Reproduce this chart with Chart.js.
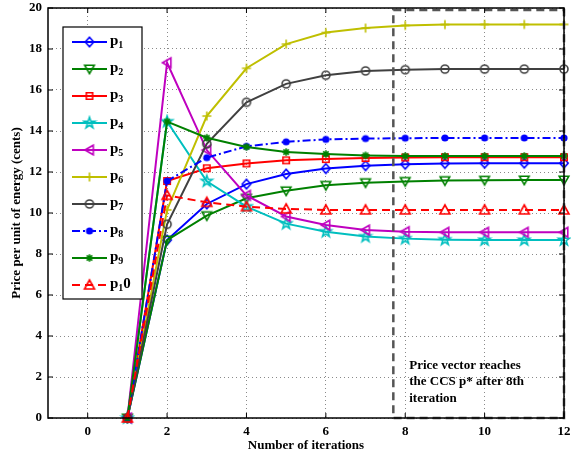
<!DOCTYPE html>
<html><head><meta charset="utf-8">
<script src="https://cdn.jsdelivr.net/npm/chart.js@4/dist/chart.umd.min.js"></script>
<style>html,body{margin:0;padding:0;background:#fff;}#wrap{width:571px;height:457px;}</style>
</head><body><div id="wrap"><canvas id="c" width="571" height="457"></canvas></div>
<script>
// ---------- data ----------
const iterations = [1,2,3,4,5,6,7,8,9,10,11,12];
const xTickValues = [0,2,4,6,8,10,12];
const yTickValues = [0,2,4,6,8,10,12,14,16,18,20];
const seriesLabels = ['p_1','p_2','p_3','p_4','p_5','p_6','p_7','p_8','p_9','p_10'];
const p1  = [0, 8.68, 10.44, 11.41, 11.90, 12.17, 12.31, 12.38, 12.42, 12.43, 12.43, 12.43];
const p2  = [0, 8.68,  9.87, 10.72, 11.08, 11.35, 11.48, 11.54, 11.58, 11.60, 11.61, 11.61];
const p3  = [0, 11.56, 12.18, 12.42, 12.57, 12.63, 12.68, 12.71, 12.72, 12.72, 12.72, 12.72];
const p4  = [0, 14.46, 11.55, 10.31, 9.48, 9.09, 8.85, 8.75, 8.70, 8.68, 8.68, 8.68];
const p5  = [0, 17.33, 13.07, 10.86, 9.83, 9.41, 9.17, 9.09, 9.06, 9.06, 9.06, 9.06];
const p6  = [0, 10.15, 14.73, 17.06, 18.24, 18.80, 19.02, 19.15, 19.19, 19.20, 19.20, 19.20];
const p7  = [0, 9.45, 13.37, 15.40, 16.30, 16.72, 16.93, 16.99, 17.02, 17.02, 17.02, 17.02];
const p8  = [0, 11.56, 12.70, 13.25, 13.47, 13.59, 13.63, 13.65, 13.66, 13.66, 13.66, 13.66];
const p9  = [0, 14.46, 13.67, 13.22, 12.97, 12.88, 12.81, 12.78, 12.78, 12.78, 12.78, 12.78];
const p10 = [0, 10.86, 10.52, 10.31, 10.20, 10.15, 10.15, 10.15, 10.15, 10.15, 10.15, 10.15];
const seriesValues = [p1,p2,p3,p4,p5,p6,p7,p8,p9,p10];
const convergenceFromIteration = 7.7;
const convergenceTopPrice = 19.9;
const noteLines = ['Price vector reaches','the CCS p* after 8th','iteration'];
const xTitle = 'Number of iterations';
const yTitle = 'Price per unit of energy (cents)';

// ---------- styles ----------
const styles = [
  {color:'#0000ff', shape:'diamond'},
  {color:'#008000', shape:'triDown'},
  {color:'#ff0000', shape:'square'},
  {color:'#00bfbf', shape:'pentagram'},
  {color:'#bf00bf', shape:'triLeft'},
  {color:'#bfbf00', shape:'plus'},
  {color:'#404040', shape:'circle'},
  {color:'#0000ff', shape:'dot', dash:[8,3,2,3]},
  {color:'#008000', shape:'asterisk'},
  {color:'#ff0000', shape:'triUp', dash:[8,5]}
];

function makeMarker(shape, color){
  const S = 16, c = document.createElement('canvas');
  c.width = S; c.height = S;
  const g = c.getContext('2d');
  g.translate(S/2, S/2);
  g.strokeStyle = color; g.fillStyle = color; g.lineWidth = 1.6;
  g.beginPath();
  let fill = false;
  switch(shape){
    case 'diamond': g.moveTo(0,-4.8); g.lineTo(4.2,0); g.lineTo(0,4.8); g.lineTo(-4.2,0); g.closePath(); break;
    case 'triDown': g.moveTo(-4.8,-3.8); g.lineTo(4.8,-3.8); g.lineTo(0,4.6); g.closePath(); break;
    case 'triUp': g.moveTo(0,-5); g.lineTo(5,4); g.lineTo(-5,4); g.closePath(); break;
    case 'triLeft': g.moveTo(-4.6,0); g.lineTo(3.8,-4.8); g.lineTo(3.8,4.8); g.closePath(); break;
    case 'square': g.rect(-3.2,-3.2,6.4,6.4); break;
    case 'pentagram':
      for(let i=0;i<10;i++){const r = i%2? 2.3:5.8; const a = -Math.PI/2 + i*Math.PI/5;
        const x = r*Math.cos(a), y = r*Math.sin(a); i? g.lineTo(x,y): g.moveTo(x,y);} g.closePath(); break;
    case 'plus': g.moveTo(-4.5,0); g.lineTo(4.5,0); g.moveTo(0,-4.5); g.lineTo(0,4.5); break;
    case 'circle': g.arc(0,0,4,0,Math.PI*2); break;
    case 'dot': g.arc(0,0,3.6,0,Math.PI*2); fill = true; break;
    case 'asterisk':
      for(let i=0;i<4;i++){const a=i*Math.PI/4; g.moveTo(-3.8*Math.cos(a),-3.8*Math.sin(a)); g.lineTo(3.8*Math.cos(a),3.8*Math.sin(a));} break;
  }
  if (fill) g.fill(); else g.stroke();
  return c;
}
const markers = styles.map(s => makeMarker(s.shape, s.color));

const datasets = seriesValues.map((vals, i) => ({
  label: seriesLabels[i],
  data: iterations.map((x, k) => ({x: x, y: vals[k]})),
  borderColor: styles[i].color,
  backgroundColor: styles[i].color,
  borderWidth: 2,
  borderDash: styles[i].dash || [],
  pointStyle: markers[i],
  pointRadius: 5,
  tension: 0,
  clip: false,
  order: seriesValues.length - i
}));

const FONT = "'Liberation Serif','Times New Roman',serif";

// draw a matlab-style label: '_' subscripts the next char
function drawTexLabel(ctx, text, x, y){
  let cx = x;
  for (let i = 0; i < text.length; i++){
    let ch = text[i], sub = false;
    if (ch === '_' && i+1 < text.length){ sub = true; ch = text[++i]; }
    ctx.font = sub ? 'bold 10px ' + FONT : 'bold 15px ' + FONT;
    ctx.fillText(ch, cx, sub ? y + 4 : y);
    cx += ctx.measureText(ch).width;
  }
}

const framePlugin = {
  id: 'frame',
  afterDatasetsDraw(chart){
    const {ctx, chartArea: a, scales: {x, y}} = chart;
    ctx.save();
    // convergence dashed box
    ctx.strokeStyle = '#555'; ctx.lineWidth = 2.5; ctx.setLineDash([8,5]);
    const l = x.getPixelForValue(convergenceFromIteration), t = y.getPixelForValue(convergenceTopPrice);
    const r = x.getPixelForValue(x.max), b = y.getPixelForValue(0);
    ctx.strokeRect(l, t, r - l, b - t);
    ctx.setLineDash([]);
    // note text
    ctx.fillStyle = '#000'; ctx.font = 'bold 13px ' + FONT; ctx.textBaseline = 'middle'; ctx.textAlign = 'left';
    const nx = x.getPixelForValue(8.1), ny = y.getPixelForValue(2.55);
    noteLines.forEach((s, i) => ctx.fillText(s, nx, ny + i*16.3));
    // axes box
    ctx.strokeStyle = '#000'; ctx.lineWidth = 1.5;
    ctx.strokeRect(a.left, a.top, a.right - a.left, a.bottom - a.top);
    ctx.lineWidth = 1;
    xTickValues.forEach(v => { const px = x.getPixelForValue(v);
      ctx.beginPath(); ctx.moveTo(px, a.bottom); ctx.lineTo(px, a.bottom - 5);
      ctx.moveTo(px, a.top); ctx.lineTo(px, a.top + 5); ctx.stroke(); });
    yTickValues.forEach(v => { const py = y.getPixelForValue(v);
      ctx.beginPath(); ctx.moveTo(a.left, py); ctx.lineTo(a.left + 5, py);
      ctx.moveTo(a.right, py); ctx.lineTo(a.right - 5, py); ctx.stroke(); });
    ctx.restore();
  },
  afterDraw(chart){
    const ctx = chart.ctx;
    ctx.save();
    const bx = 63, by = 27, bw = 79, bh = 272;
    ctx.fillStyle = '#fff'; ctx.fillRect(bx, by, bw, bh);
    ctx.strokeStyle = '#000'; ctx.lineWidth = 1.2; ctx.strokeRect(bx, by, bw, bh);
    chart.data.datasets.forEach((ds, i) => {
      const yy = 42 + i*27;
      ctx.strokeStyle = ds.borderColor; ctx.lineWidth = 2;
      ctx.setLineDash(ds.borderDash);
      ctx.beginPath(); ctx.moveTo(72, yy); ctx.lineTo(107, yy); ctx.stroke();
      ctx.setLineDash([]);
      const m = ds.pointStyle;
      ctx.drawImage(m, 89.5 - m.width/2, yy - m.height/2);
      ctx.fillStyle = '#000'; ctx.textBaseline = 'middle'; ctx.textAlign = 'left';
      drawTexLabel(ctx, ds.label, 110, yy - 1);
    });
    ctx.restore();
  }
};

new Chart(document.getElementById('c'), {
  type: 'line',
  data: { datasets },
  options: {
    responsive: false, animation: false, devicePixelRatio: 1,
    layout: { padding: { top: 8, right: 5, left: 0, bottom: 0 } },
    plugins: { legend: { display: false }, tooltip: { enabled: false } },
    scales: {
      x: {
        type: 'linear', min: -1, max: 12,
        afterBuildTicks: s => { s.ticks = xTickValues.map(v => ({value: v})); },
        afterFit: s => { s.height = 39; s.paddingLeft = 0; s.paddingRight = 0; },
        grid: { color: '#8a8a8a', lineWidth: 1, drawTicks: false },
        border: { display: false, dash: [1,3] },
        ticks: { color: '#000', padding: 6, font: { family: FONT, size: 13, weight: 'bold' } },
        title: { display: true, text: xTitle, color: '#000', padding: { top: 0, bottom: 4 },
                 font: { family: FONT, size: 13, weight: 'bold' } }
      },
      y: {
        type: 'linear', min: 0, max: 20,
        afterBuildTicks: s => { s.ticks = yTickValues.map(v => ({value: v})); },
        afterFit: s => { s.width = 48; s.paddingTop = 0; s.paddingBottom = 0; },
        grid: { color: '#8a8a8a', lineWidth: 1, drawTicks: false },
        border: { display: false, dash: [1,3] },
        ticks: { color: '#000', padding: 6, font: { family: FONT, size: 13, weight: 'bold' } },
        title: { display: true, text: yTitle, color: '#000', padding: { top: 9, bottom: 0 },
                 font: { family: FONT, size: 13, weight: 'bold' } }
      }
    }
  },
  plugins: [framePlugin]
});
</script></body></html>
